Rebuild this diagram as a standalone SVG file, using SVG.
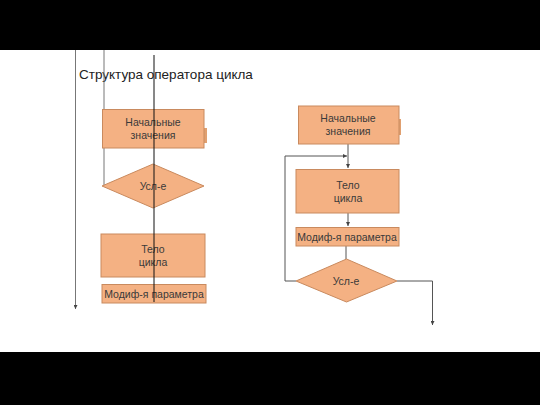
<svg xmlns="http://www.w3.org/2000/svg" width="540" height="405" viewBox="0 0 540 405">
<defs>
<style>
.box{fill:#F4B183;stroke:#C98A5E;stroke-width:1}
.tab{fill:#E0A070;stroke:none}
.t{font-family:"Liberation Sans",Arial,sans-serif;font-size:10.5px;fill:#3a3a3a;text-anchor:middle}
.ln{fill:none;stroke:#555;stroke-width:1}
.lg{fill:none;stroke:#777;stroke-width:1}
.lk{fill:none;stroke:#111;stroke-width:1}
</style>
<marker id="ah" viewBox="0 0 6 6" refX="6" refY="3" markerWidth="4" markerHeight="4" orient="auto">
<path d="M0,0 L6,3 L0,6 z" fill="#444"/>
</marker>
</defs>
<rect x="0" y="0" width="540" height="405" fill="#fff"/>
<rect x="0" y="0" width="540" height="50" fill="#000"/>
<rect x="0" y="352" width="540" height="53" fill="#000"/>
<text x="79" y="79" font-family="Liberation Sans,Arial,sans-serif" font-size="13.5" fill="#222">Структура оператора цикла</text>

<g id="connectors">
<!-- left diagram -->
<path class="lg" d="M75.5,50 V309" marker-end="url(#ah)"/>
<path class="lg" d="M104,50 V186"/>
<!-- right diagram -->
<path class="ln" d="M348,144 V168" marker-end="url(#ah)"/>
<path class="ln" d="M296,281 H285 V156 H347" marker-end="url(#ah)"/>
<path class="ln" d="M348,213 V226" marker-end="url(#ah)"/>
<path class="ln" d="M346,246 V259"/>
<path class="ln" d="M397,281 H432.5 V325" marker-end="url(#ah)"/>
</g>

<g id="n_init_left">
<rect class="tab" x="204" y="128" width="3" height="15"/>
<rect class="box" x="102.5" y="109.5" width="101.5" height="38.5"/>
<text class="t" x="153" y="126">Начальные</text>
<text class="t" x="153" y="139">значения</text>
</g>
<g id="n_cond_left">
<polygon class="box" points="153,164 204,186 153,208 102,186"/>
<text class="t" x="153" y="190">Усл-е</text>
</g>
<g id="n_body_left">
<rect class="box" x="101" y="234" width="104" height="43"/>
<text class="t" x="153" y="253">Тело</text>
<text class="t" x="153" y="266">цикла</text>
</g>
<g id="n_mod_left">
<rect class="box" x="102" y="284.5" width="104" height="18.5"/>
<text class="t" x="154" y="298">Модиф-я параметра</text>
</g>
<g id="left_center_line">
<path class="lk" d="M154,55 V302"/>
</g>

<g id="n_init_right">
<rect class="tab" x="399" y="119" width="2" height="16"/>
<rect class="box" x="298.5" y="106" width="100.5" height="38"/>
<text class="t" x="348" y="122">Начальные</text>
<text class="t" x="348" y="135">значения</text>
</g>
<g id="n_body_right">
<rect class="box" x="296" y="169.5" width="103" height="43.5"/>
<text class="t" x="348" y="189">Тело</text>
<text class="t" x="348" y="202">цикла</text>
</g>
<g id="n_mod_right">
<rect class="box" x="296" y="227.5" width="103" height="18.5"/>
<text class="t" x="347" y="241">Модиф-я параметра</text>
</g>
<g id="n_cond_right">
<polygon class="box" points="346.5,259 397,281 346.5,302 296,281"/>
<text class="t" x="346" y="285">Усл-е</text>
</g>
</svg>
